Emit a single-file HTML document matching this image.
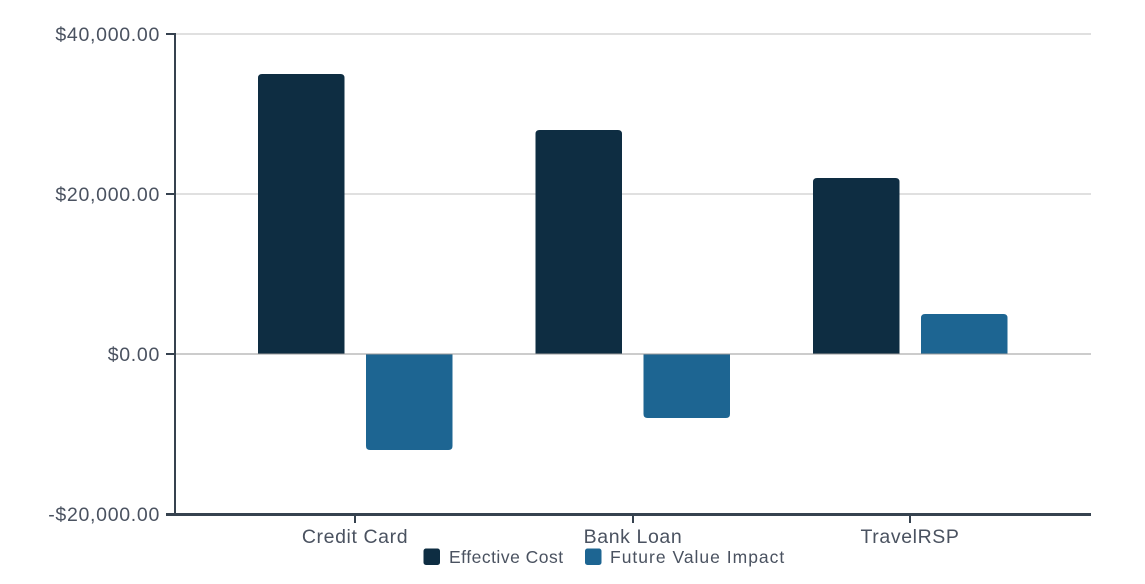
<!DOCTYPE html>
<html><head><meta charset="utf-8"><style>
html,body{margin:0;padding:0;background:#fff;}
svg{display:block;}
text{font-family:"Liberation Sans",sans-serif;fill:#4a5260;}
</style></head><body>
<svg width="1145" height="584" viewBox="0 0 1145 584" xmlns="http://www.w3.org/2000/svg">
<!-- gridlines -->
<line x1="176" y1="34" x2="1091" y2="34" stroke="#d6d6d6" stroke-width="1.5"/>
<line x1="176" y1="194" x2="1091" y2="194" stroke="#d6d6d6" stroke-width="1.5"/>
<!-- bars -->
<path d="M258,354 V78 Q258,74 262,74 H340.5 Q344.5,74 344.5,78 V354 Z" fill="#0e2d42"/>
<path d="M366,354 V446 Q366,450 370,450 H448.5 Q452.5,450 452.5,446 V354 Z" fill="#1d6592"/>
<path d="M535.5,354 V134 Q535.5,130 539.5,130 H618 Q622,130 622,134 V354 Z" fill="#0e2d42"/>
<path d="M643.5,354 V414 Q643.5,418 647.5,418 H726 Q730,418 730,414 V354 Z" fill="#1d6592"/>
<path d="M813,354 V182 Q813,178 817,178 H895.5 Q899.5,178 899.5,182 V354 Z" fill="#0e2d42"/>
<path d="M921,354 V318 Q921,314 925,314 H1003.5 Q1007.5,314 1007.5,318 V354 Z" fill="#1d6592"/>
<!-- zero line -->
<line x1="176" y1="354" x2="1091" y2="354" stroke="#999999" stroke-width="1"/>
<!-- axes -->
<line x1="175" y1="33" x2="175" y2="516" stroke="#36424f" stroke-width="2"/>
<line x1="166" y1="34" x2="175" y2="34" stroke="#36424f" stroke-width="2"/>
<line x1="166" y1="194" x2="175" y2="194" stroke="#36424f" stroke-width="2"/>
<line x1="166" y1="354" x2="175" y2="354" stroke="#36424f" stroke-width="2"/>
<line x1="166" y1="514.5" x2="175" y2="514.5" stroke="#36424f" stroke-width="3"/>
<line x1="174" y1="514.5" x2="1091" y2="514.5" stroke="#36424f" stroke-width="3"/>
<line x1="355" y1="515" x2="355" y2="523" stroke="#36424f" stroke-width="2"/>
<line x1="633" y1="515" x2="633" y2="523" stroke="#36424f" stroke-width="2"/>
<line x1="910" y1="515" x2="910" y2="523" stroke="#36424f" stroke-width="2"/>
<!-- y labels -->
<g font-size="19.5" text-anchor="end" letter-spacing="0.7">
<text x="160" y="41">$40,000.00</text>
<text x="160" y="201">$20,000.00</text>
<text x="160" y="361">$0.00</text>
<text x="160" y="521">-$20,000.00</text>
</g>
<!-- x labels -->
<g font-size="19.5" text-anchor="middle" letter-spacing="0.6">
<text x="355" y="543">Credit Card</text>
<text x="633" y="543">Bank Loan</text>
<text x="910" y="543">TravelRSP</text>
</g>
<!-- legend -->
<rect x="423.5" y="548.5" width="16.5" height="16.5" rx="2.5" fill="#0e2d42"/>
<text x="449" y="563" font-size="17.5" letter-spacing="0.5">Effective Cost</text>
<rect x="585" y="548.5" width="16.5" height="16.5" rx="2.5" fill="#1d6592"/>
<text x="610" y="563" font-size="17.5" letter-spacing="1.0">Future Value Impact</text>
</svg>
</body></html>
